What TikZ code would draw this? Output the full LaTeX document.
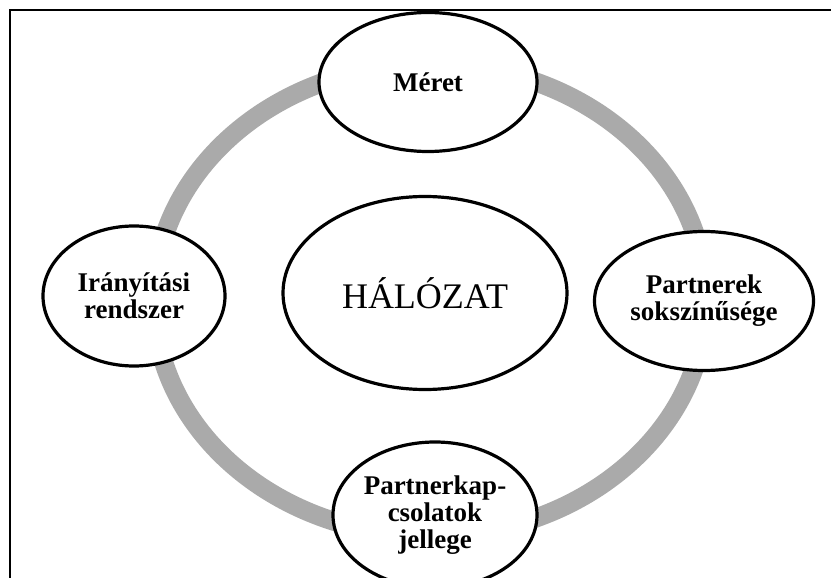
\documentclass[tikz,border=0pt]{standalone}
\usepackage{fontspec}
\setmainfont{Liberation Serif}
\usetikzlibrary{shapes.geometric}
\definecolor{ringgray}{RGB}{170,170,170}
\tikzset{
  topic/.style={ellipse, draw=black, line width=3.2pt, fill=white,
    inner sep=0pt, align=center, font=\fontsize{27}{27}\selectfont\bfseries},
  hub/.style={ellipse, draw=black, line width=3.2pt, fill=white,
    inner sep=0pt, align=center, font=\fontsize{36}{38}\selectfont}
}
\begin{document}
\begin{tikzpicture}[x=1pt,y=-1pt]
  \useasboundingbox (0,0) rectangle (831,578);
  % frame (top and left edges lie on the page)
  \draw[line width=2.6pt] (10,600) -- (10,10) -- (850,10);
  % grey ring linking the four aspects
  \draw[ringgray, line width=19pt] (430,300) ellipse [x radius=276pt, y radius=236pt];
  % central notion
  \node[hub, minimum width=284pt, minimum height=193pt] (halozat) at (425,293) {HÁLÓZAT};
  % four aspects on the ring
  \node[topic, minimum width=218pt, minimum height=139pt] (meret) at (428,82) {Méret};
  \node[topic, minimum width=182pt, minimum height=140pt] (iranyitas) at (134,296) {Irányítási\\rendszer};
  \node[topic, minimum width=219pt, minimum height=139pt] (partnerek) at (704,301) {Partnerek\\sokszínűsége};
  \node[topic, minimum width=204pt, minimum height=146pt] (kapcsolat) at (435,515) {Partnerkap-\\csolatok\\jellege};
\end{tikzpicture}
\end{document}
